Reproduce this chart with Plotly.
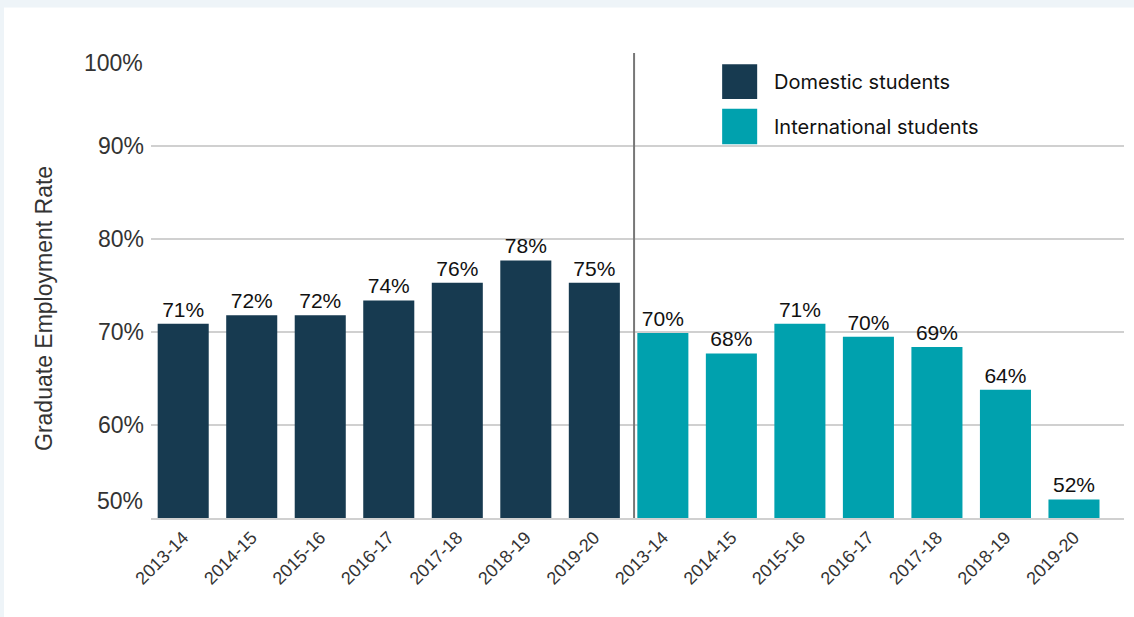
import plotly.graph_objects as go

years = ["2013-14", "2014-15", "2015-16", "2016-17", "2017-18", "2018-19", "2019-20"]
domestic = [70.9, 71.8, 71.8, 73.4, 75.3, 77.7, 75.3]
domestic_labels = ["71%", "72%", "72%", "74%", "76%", "78%", "75%"]
international = [69.9, 67.7, 70.9, 69.5, 68.4, 63.8, 52.0]
international_labels = ["70%", "68%", "71%", "70%", "69%", "64%", "52%"]
y_ticks = [50, 60, 70, 80, 90, 100]
y_tick_labels = ["50%", "60%", "70%", "80%", "90%", "100%"]

DOM_COLOR = "#173a50"
INT_COLOR = "#00a1ae"

n = len(years)
x_dom = list(range(n))
x_int = list(range(n, 2 * n))

label_font = dict(family="Liberation Sans, Arial, sans-serif", size=21, color="#111111")
tick_font = dict(family="Liberation Sans, Arial, sans-serif", size=23, color="#333333")

fig = go.Figure()
fig.add_trace(go.Bar(
    x=x_dom, y=domestic, text=domestic_labels, textposition="outside",
    marker=dict(color=DOM_COLOR, line=dict(width=0)), name="Domestic students",
    textfont=label_font, cliponaxis=False, width=0.745,
))
fig.add_trace(go.Bar(
    x=x_int, y=international, text=international_labels, textposition="outside",
    marker=dict(color=INT_COLOR, line=dict(width=0)), name="International students",
    textfont=label_font, cliponaxis=False, width=0.745,
))

shapes = [
    # background frame bands
    dict(type="rect", xref="paper", yref="paper", x0=-0.2, x1=1.1, y0=1.098, y1=1.2,
         fillcolor="#eef4f8", line=dict(width=0), layer="below"),
    dict(type="rect", xref="paper", yref="paper", x0=-0.2, x1=-0.1511, y0=-0.3, y1=1.2,
         fillcolor="#eef4f8", line=dict(width=0), layer="below"),
    # separator
    dict(type="line", xref="x", yref="paper", x0=6.58, x1=6.58, y0=0, y1=1,
         line=dict(color="#777777", width=2)),
    # legend squares
    dict(type="rect", xref="paper", yref="paper", x0=0.587, x1=0.623, y0=0.901, y1=0.976,
         fillcolor=DOM_COLOR, line=dict(width=0)),
    dict(type="rect", xref="paper", yref="paper", x0=0.587, x1=0.623, y0=0.804, y1=0.880,
         fillcolor=INT_COLOR, line=dict(width=0)),
]

# tick labels: the top and bottom ones are nudged inward, as in the original
shown_tick_text = [t if v not in (y_ticks[0], y_ticks[-1]) else "" for v, t in zip(y_ticks, y_tick_labels)]

annotations = [
    dict(xref="paper", yref="paper", x=0.638, y=0.938, xanchor="left", yanchor="middle",
         text="Domestic students", showarrow=False,
         font=dict(family="Inter, sans-serif", size=20, color="#111111")),
    dict(xref="paper", yref="paper", x=0.638, y=0.841, xanchor="left", yanchor="middle",
         text="International students", showarrow=False,
         font=dict(family="Inter, sans-serif", size=20, color="#111111")),
    dict(xref="paper", yref="y", x=0, y=y_ticks[-1], xanchor="right", yanchor="middle",
         xshift=-6, yshift=-10, text=y_tick_labels[-1], showarrow=False, font=tick_font),
    dict(xref="paper", yref="y", x=0, y=y_ticks[0], xanchor="right", yanchor="middle",
         xshift=-6, yshift=17, text=y_tick_labels[0], showarrow=False, font=tick_font),
    dict(xref="paper", yref="paper", x=-0.11, y=0.4516, xanchor="center", yanchor="middle",
         text="Graduate Employment Rate", textangle=-90, showarrow=False,
         font=dict(family="Liberation Sans, Arial, sans-serif", size=23, color="#333333")),
]

fig.update_layout(
    width=1134, height=617,
    margin=dict(l=151, r=10, t=53, b=99),
    paper_bgcolor="white", plot_bgcolor="white",
    showlegend=False,
    bargap=0.25,
    shapes=shapes, annotations=annotations,
    font=dict(family="Liberation Sans, Arial, sans-serif", color="#333333"),
)
fig.update_xaxes(
    range=[-0.47, 13.73], tickmode="array", tickvals=x_dom + x_int, ticktext=years + years,
    tickangle=-45, tickfont=dict(size=18, color="#333333"), showgrid=False, zeroline=False,
    showline=True, linecolor="#d0d0d0", linewidth=2, ticks="",
)
fig.update_yaxes(
    range=[50, 100], tickmode="array", tickvals=y_ticks, ticktext=shown_tick_text,
    tickfont=tick_font, showgrid=True, gridcolor="#d0d0d0", gridwidth=2,
    zeroline=False, showline=False, ticks="", ticklabelstandoff=6,
)

fig.write_html("out.html")
